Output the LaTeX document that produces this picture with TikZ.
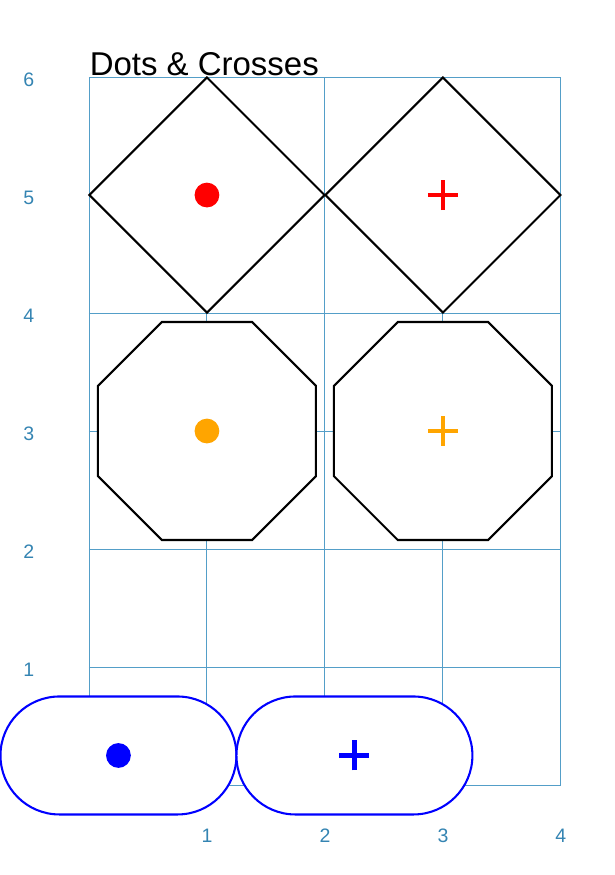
\documentclass[tikz,border=0pt]{standalone}
\usepackage{fontspec}
\setmainfont{Liberation Sans}
\usetikzlibrary{shapes.geometric,shapes.misc}
\definecolor{gridblue}{RGB}{84,158,200}
\definecolor{tickblue}{RGB}{52,132,178}
\definecolor{dotorange}{RGB}{255,165,0}
\begin{document}
\begin{tikzpicture}[grid_style/.style={draw=gridblue, line width=0.22pt},
                    diamond_style/.style={diamond, draw=black, fill=white, line width=0.5pt, inner sep=0pt, minimum width=2cm, minimum height=2cm},
                    octagon_style/.style={regular polygon, regular polygon sides=8, draw=black, fill=white, line width=0.5pt, inner sep=0pt, minimum size=2cm},
                    pill_style/.style={rounded rectangle, draw=blue, fill=white, line width=0.5pt, inner sep=0pt, minimum width=2cm, minimum height=1cm},
                    dot_style/.style={circle, inner sep=0pt, minimum size=0.21cm},
                    plus_style/.style={line width=1pt},
                    tick_style/.style={text=tickblue, inner sep=0pt, font=\fontsize{4.7pt}{5pt}\selectfont}]
                    \useasboundingbox (-0.754,-0.763) rectangle (4.458,6.653);
                    \draw[grid_style] (0,0) grid (4,6);
                    % shapes
                    \node[diamond_style] (dia1) at (1, 5) {};
                    \node[diamond_style] (dia2) at (3, 5) {};
                    \node[octagon_style] (oct1) at (1, 3) {};
                    \node[octagon_style] (oct2) at (3, 3) {};
                    \node[pill_style] (pill1) at (0.25, 0.25) {};
                    \node[pill_style] (pill2) at (2.25, 0.25) {};
                    % dots and crosses
                    \node[dot_style, fill=red] (dot1) at (dia1.center) {};
                    \node[dot_style, fill=dotorange] (dot2) at (oct1.center) {};
                    \node[dot_style, fill=blue] (dot3) at (pill1.center) {};
                    \draw[plus_style, red] ([xshift=-0.127cm]dia2.center) -- ([xshift=0.127cm]dia2.center);
                    \draw[plus_style, red] ([yshift=-0.127cm]dia2.center) -- ([yshift=0.127cm]dia2.center);
                    \draw[plus_style, dotorange] ([xshift=-0.127cm]oct2.center) -- ([xshift=0.127cm]oct2.center);
                    \draw[plus_style, dotorange] ([yshift=-0.127cm]oct2.center) -- ([yshift=0.127cm]oct2.center);
                    \draw[plus_style, blue] ([xshift=-0.127cm]pill2.center) -- ([xshift=0.127cm]pill2.center);
                    \draw[plus_style, blue] ([yshift=-0.127cm]pill2.center) -- ([yshift=0.127cm]pill2.center);
                    % axis labels
                    \node[tick_style] (y1) at (-0.51, 0.975) {1};
                    \node[tick_style] (y2) at (-0.51, 1.975) {2};
                    \node[tick_style] (y3) at (-0.51, 2.975) {3};
                    \node[tick_style] (y4) at (-0.51, 3.975) {4};
                    \node[tick_style] (y5) at (-0.51, 4.975) {5};
                    \node[tick_style] (y6) at (-0.51, 5.975) {6};
                    \node[tick_style] (x1) at (1, -0.43) {1};
                    \node[tick_style] (x2) at (2, -0.43) {2};
                    \node[tick_style] (x3) at (3, -0.43) {3};
                    \node[tick_style] (x4) at (4, -0.43) {4};
                    \node[anchor=base west, inner sep=0pt, font=\fontsize{7.95pt}{9pt}\selectfont] (title) at (0, 6.01) {Dots \& Crosses};
                \end{tikzpicture}
\end{document}
